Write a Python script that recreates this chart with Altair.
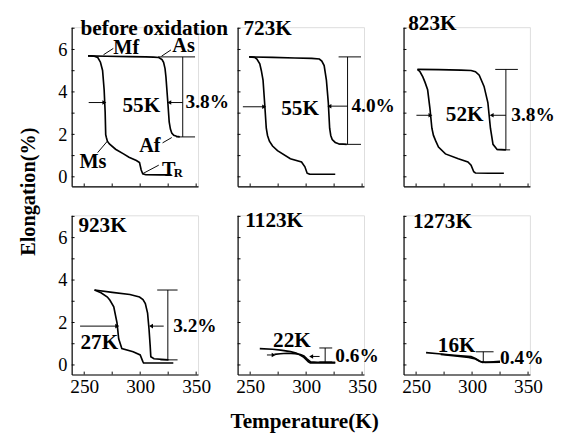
import altair as alt
import pandas as pd

FONT = "Liberation Serif"

X_DOMAIN = [238.8, 351.7]
Y_DOMAIN = [-0.45, 7.05]
X_LABEL_VALUES = [250, 300, 350]
Y_LABEL_VALUES = [0, 2, 4, 6]
X_TICK_VALUES = [250, 275, 300, 325, 350]
Y_TICK_VALUES = [0, 1, 2, 3, 4, 5, 6, 7]

PANEL_TITLES = ["before oxidation", "723K", "823K", "923K", "1123K", "1273K"]
X_TITLE = "Temperature(K)"
Y_TITLE = "Elongation(%)"

# ---------- curves (temperature K, elongation %) ----------
# before oxidation
P1_COOL_T = [328, 318, 305, 302.3, 300.9, 299.4, 296.6, 290, 285.1, 278, 272.5, 270.7, 269.8, 269.2, 268.7, 267.8, 266.4, 264.5, 262.1, 259, 256, 253.4]
P1_COOL_E = [0.09, 0.09, 0.10, 0.14, 0.32, 0.67, 0.77, 0.92, 1.08, 1.30, 1.55, 1.68, 1.85, 1.99, 3.05, 4.10, 5.01, 5.40, 5.62, 5.68, 5.70, 5.70]
P1_HEAT_T = [253.4, 270, 290, 305, 312, 316.6, 319.5, 320.9, 322.2, 323.0, 324.7, 325.9, 327, 328.2, 330, 332.5, 335.3]
P1_HEAT_E = [5.70, 5.68, 5.66, 5.65, 5.64, 5.62, 5.52, 5.39, 5.10, 4.71, 3.50, 2.59, 2.25, 2.06, 1.96, 1.91, 1.88]
# 723K
P2_COOL_T = [326, 315, 303, 300.9, 298.9, 295.9, 285.9, 274.4, 270, 267.2, 265.5, 264.4, 262.9, 261.5, 260, 258.6, 256, 254.3, 249.1]
P2_COOL_E = [0.12, 0.12, 0.13, 0.17, 0.47, 0.70, 0.85, 1.23, 1.45, 1.68, 1.95, 2.29, 3.50, 4.56, 5.00, 5.32, 5.55, 5.62, 5.65]
P2_HEAT_T = [249.1, 270, 290, 305, 311.8, 314, 316.1, 318.1, 319.8, 321.0, 322, 323.3, 326, 329.0, 336.2]
P2_HEAT_E = [5.65, 5.63, 5.60, 5.58, 5.55, 5.45, 5.24, 4.56, 3.50, 2.29, 1.95, 1.76, 1.62, 1.56, 1.53]
# 823K
P3_COOL_T = [328.4, 315, 303, 301.5, 299.1, 296.3, 287.7, 276.2, 270, 267.6, 265.5, 264.1, 262.4, 260.3, 258, 256.0, 253.5, 251.2]
P3_COOL_E = [0.17, 0.17, 0.18, 0.24, 0.55, 0.70, 0.85, 1.08, 1.40, 1.68, 1.95, 2.29, 3.20, 4.10, 4.45, 4.71, 4.95, 5.06]
P3_HEAT_T = [251.2, 270, 290, 299.1, 303, 306.4, 310.7, 314.1, 316.4, 318.7, 322.2, 330.2]
P3_HEAT_E = [5.06, 5.05, 5.03, 5.01, 4.95, 4.79, 4.26, 3.50, 2.29, 1.53, 1.30, 1.27]
# 923K
P4_COOL_T = [329.6, 315, 303, 302.3, 300.0, 293.7, 283.6, 280.8, 279.3, 276.4, 273, 270.7, 265, 259.2]
P4_COOL_E = [0.09, 0.09, 0.10, 0.17, 0.47, 0.62, 0.77, 1.23, 1.98, 2.74, 3.05, 3.20, 3.40, 3.53]
P4_HEAT_T = [259.2, 275, 290.8, 299.4, 302.5, 304.6, 306.6, 307.9, 308.9, 309.5, 312.3, 325.3]
P4_HEAT_E = [3.53, 3.42, 3.32, 3.20, 3.08, 2.89, 2.44, 1.68, 0.92, 0.39, 0.29, 0.24]
# 1123K
P5_COOL_T = [326, 310, 304, 301, 298, 295, 290, 283, 277, 271.6]
P5_COOL_E = [0.12, 0.13, 0.15, 0.28, 0.42, 0.49, 0.53, 0.55, 0.53, 0.50]
P5_HEAT_T = [258.6, 270, 277.3, 286, 291, 294.6, 298, 300.3, 302, 303.7, 310, 326]
P5_HEAT_E = [0.77, 0.74, 0.70, 0.63, 0.56, 0.47, 0.36, 0.24, 0.15, 0.10, 0.10, 0.10]
# 1273K
P6_COOL_T = [325, 312, 307, 303, 297, 285, 272]
P6_COOL_E = [0.13, 0.12, 0.16, 0.28, 0.35, 0.42, 0.50]
P6_HEAT_T = [258.9, 270, 281.9, 290, 299.1, 303, 306.3, 309.2, 316, 325]
P6_HEAT_E = [0.58, 0.53, 0.47, 0.43, 0.39, 0.30, 0.20, 0.12, 0.14, 0.17]

# ---------- annotations: segments (x, x2, y, y2) ----------
P1_SEGS = [(338, 338, 5.65, 1.88), (316, 349, 5.65, 5.65), (332, 349, 1.88, 1.88),
           (254, 268, 3.5, 3.5), (326, 338, 3.5, 3.5),
           (267.2, 276, 5.75, 6.05), (319, 327.5, 5.68, 5.98), (270.7, 262, 1.68, 1.14),
           (328.2, 320, 1.85, 1.6), (302.3, 316.6, 0.15, 0.55)]
P2_SEGS = [(337, 337, 5.65, 1.53), (329, 349, 5.65, 5.65), (329, 349, 1.53, 1.53),
           (243.5, 262.5, 3.3, 3.3), (320.8, 337, 3.33, 3.33)]
P3_SEGS = [(330.2, 330.2, 5.06, 1.27), (320.7, 340.9, 5.06, 5.06), (322, 334, 1.27, 1.27),
           (250.3, 262.8, 2.9, 2.9), (317.5, 330.2, 2.9, 2.9)]
P4_SEGS = [(324.7, 324.7, 3.53, 0.24), (315.2, 333.4, 3.53, 3.53), (318, 333.4, 0.24, 0.24),
           (246.3, 279.5, 1.83, 1.83), (309.7, 321, 1.83, 1.83)]
P5_SEGS = [(317, 317, 0.80, 0.14), (311.8, 323.3, 0.80, 0.80), (311.8, 323.3, 0.14, 0.14),
           (304.5, 312, 0.4, 0.4), (265, 271, 0.47, 0.47)]
P6_SEGS = [(310, 310, 0.62, 0.12), (303.4, 319.2, 0.62, 0.62)]

# arrowheads (x, y, shape)
P1_HEADS = [(268, 3.5, "triangle-right"), (326, 3.5, "triangle-left")]
P2_HEADS = [(262.5, 3.3, "triangle-right"), (320.8, 3.33, "triangle-left")]
P3_HEADS = [(262.8, 2.9, "triangle-right"), (317.5, 2.9, "triangle-left")]
P4_HEADS = [(279.5, 1.83, "triangle-right"), (309.7, 1.83, "triangle-left")]
P5_HEADS = [(304.5, 0.4, "triangle-left"), (271, 0.47, "triangle-right")]
P6_HEADS = []

# centred texts (x, y, text, size)
P1_CTEXT = [(301, 3.35, "55K", 22), (287.5, 6.08, "Mf", 21), (338.8, 6.15, "As", 21),
            (257.8, 0.70, "Ms", 21), (308.6, 1.45, "Af", 21), (325.5, 0.32, "T", 21),
            (334.0, 0.16, "R", 13)]
P2_CTEXT = [(294.6, 3.25, "55K", 22)]
P3_CTEXT = [(293.4, 2.95, "52K", 22)]
P4_CTEXT = [(263.5, 1.05, "27K", 22)]
P5_CTEXT = [(287.3, 1.15, "22K", 22)]
P6_CTEXT = [(286.2, 0.95, "16K", 22)]

# left-aligned texts (x, y, text, size)
P1_LTEXT = [(246.6, 7.0, PANEL_TITLES[0], 22), (340.5, 3.5, "3.8%", 20)]
P2_LTEXT = [(244.0, 7.0, PANEL_TITLES[1], 22), (340.5, 3.35, "4.0%", 20)]
P3_LTEXT = [(243.0, 7.25, PANEL_TITLES[2], 22), (335.1, 2.9, "3.8%", 20)]
P4_LTEXT = [(244.8, 6.6, PANEL_TITLES[3], 22), (329.5, 1.83, "3.2%", 20)]
P5_LTEXT = [(245.7, 6.83, PANEL_TITLES[4], 22), (326.1, 0.4, "0.6%", 20)]
P6_LTEXT = [(247.2, 6.76, PANEL_TITLES[5], 22), (325.0, 0.3, "0.4%", 20)]

W, H = 131, 165


def curve_df(ct, ce, ht, he):
    rows = []
    for i, (t, e) in enumerate(zip(ct, ce)):
        rows.append({"T": t, "E": e, "branch": "cool", "o": i})
    for i, (t, e) in enumerate(zip(ht, he)):
        rows.append({"T": t, "E": e, "branch": "heat", "o": i})
    return pd.DataFrame(rows)


def panel(cool_t, cool_e, heat_t, heat_e, segs, heads, ctext, ltext,
          show_x, show_y, x_title=None, y_title=None):
    xs = alt.Scale(domain=X_DOMAIN, nice=False, zero=False)
    ys = alt.Scale(domain=Y_DOMAIN, nice=False, zero=False)

    xkw = dict(values=X_LABEL_VALUES, labels=show_x, ticks=False, grid=False,
               domainColor="black", domainWidth=1.2, labelPadding=3,
               labelFont=FONT, labelFontSize=20, labelColor="black")
    if x_title:
        xkw.update(title=x_title, titleX=69, titleY=48, titleAlign="center",
                   titleBaseline="middle", titleFont=FONT, titleFontSize=22,
                   titleFontWeight="bold", titleColor="black")
    else:
        xkw.update(title=None)
    ykw = dict(values=Y_LABEL_VALUES, labels=show_y, ticks=False, grid=False,
               domainColor="black", domainWidth=1.2, labelPadding=5,
               labelFont=FONT, labelFontSize=19, labelColor="black")
    if y_title:
        ykw.update(title=y_title, titleX=-45, titleY=170, titleAngle=270,
                   titleAlign="center", titleBaseline="middle", titleFont=FONT,
                   titleFontSize=21, titleFontWeight="bold", titleColor="black")
    else:
        ykw.update(title=None)

    curves = alt.Chart(curve_df(cool_t, cool_e, heat_t, heat_e)).mark_line(
        color="black", strokeWidth=1.7
    ).encode(
        x=alt.X("T:Q", scale=xs, axis=alt.Axis(**xkw)),
        y=alt.Y("E:Q", scale=ys, axis=alt.Axis(**ykw)),
        detail="branch:N",
        order="o:Q",
    )

    ytk = alt.Chart(pd.DataFrame({"v": Y_TICK_VALUES})).mark_rule(
        color="black", strokeWidth=1
    ).encode(y=alt.Y("v:Q"), x=alt.value(0), x2=alt.value(3))
    xtk = alt.Chart(pd.DataFrame({"v": X_TICK_VALUES})).mark_rule(
        color="black", strokeWidth=1
    ).encode(x=alt.X("v:Q"), y=alt.value(H), y2=alt.value(H - 3))

    seg_df = pd.DataFrame(segs, columns=["x", "x2", "y", "y2"])
    seg = alt.Chart(seg_df).mark_rule(color="black", strokeWidth=1).encode(
        x=alt.X("x:Q"), x2="x2:Q",
        y=alt.Y("y:Q"), y2="y2:Q",
    )

    layers = [curves, ytk, xtk, seg]

    if heads:
        hd = pd.DataFrame(heads, columns=["x", "y", "s"])
        layers.append(
            alt.Chart(hd).mark_point(filled=True, color="black", size=22, opacity=1).encode(
                x=alt.X("x:Q"),
                y=alt.Y("y:Q"),
                shape=alt.Shape("s:N", scale=None, legend=None),
            )
        )

    ct = pd.DataFrame(ctext, columns=["x", "y", "t", "s"])
    layers.append(
        alt.Chart(ct).mark_text(font=FONT, fontWeight="bold", align="center",
                                baseline="middle", color="black").encode(
            x=alt.X("x:Q"),
            y=alt.Y("y:Q"),
            text="t:N",
            size=alt.Size("s:Q", scale=None, legend=None),
        )
    )
    lt = pd.DataFrame(ltext, columns=["x", "y", "t", "s"])
    layers.append(
        alt.Chart(lt).mark_text(font=FONT, fontWeight="bold", align="left",
                                baseline="middle", color="black").encode(
            x=alt.X("x:Q"),
            y=alt.Y("y:Q"),
            text="t:N",
            size=alt.Size("s:Q", scale=None, legend=None),
        )
    )
    return alt.layer(*layers).properties(width=W, height=H)


panels = [
    panel(P1_COOL_T, P1_COOL_E, P1_HEAT_T, P1_HEAT_E, P1_SEGS, P1_HEADS, P1_CTEXT, P1_LTEXT,
          False, True, y_title=Y_TITLE),
    panel(P2_COOL_T, P2_COOL_E, P2_HEAT_T, P2_HEAT_E, P2_SEGS, P2_HEADS, P2_CTEXT, P2_LTEXT,
          False, False),
    panel(P3_COOL_T, P3_COOL_E, P3_HEAT_T, P3_HEAT_E, P3_SEGS, P3_HEADS, P3_CTEXT, P3_LTEXT,
          False, False),
    panel(P4_COOL_T, P4_COOL_E, P4_HEAT_T, P4_HEAT_E, P4_SEGS, P4_HEADS, P4_CTEXT, P4_LTEXT,
          True, True),
    panel(P5_COOL_T, P5_COOL_E, P5_HEAT_T, P5_HEAT_E, P5_SEGS, P5_HEADS, P5_CTEXT, P5_LTEXT,
          True, False, x_title=X_TITLE),
    panel(P6_COOL_T, P6_COOL_E, P6_HEAT_T, P6_HEAT_E, P6_SEGS, P6_HEADS, P6_CTEXT, P6_LTEXT,
          True, False),
]

chart = alt.concat(*panels, columns=3, spacing=alt.RowColnumber(row=30, column=41),
                   bounds="flush").properties(
    padding={"left": 9, "top": -4, "right": 0, "bottom": 0}
).configure_view(stroke=None).configure(background="white").configure_axis(
    labelFont=FONT, titleFont=FONT
)

chart.save("out.html", embed_options={"renderer": "svg", "actions": False})
